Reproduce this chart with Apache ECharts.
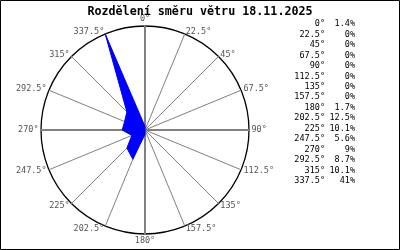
<!DOCTYPE html>
<html><head><meta charset="utf-8">
<script src="https://cdn.jsdelivr.net/npm/echarts@6/dist/echarts.min.js"></script>
<style>html,body{margin:0;padding:0;background:#fff}#c{width:400px;height:250px}</style>
</head><body><div id="c"></div>
<script>
const titleText = 'Rozdělení směru větru 18.11.2025';
const directions = ['0°','22.5°','45°','67.5°','90°','112.5°','135°','157.5°','180°','202.5°','225°','247.5°','270°','292.5°','315°','337.5°'];
const percents = [1.4,0,0,0,0,0,0,0,1.7,12.5,10.1,5.6,9,8.7,10.1,41];
const percentLabels = ['1.4%','0%','0%','0%','0%','0%','0%','0%','1.7%','12.5%','10.1%','5.6%','9%','8.7%','10.1%','41%'];
const radiusMax = 41;

// radar runs counter-clockwise: reorder so directions go clockwise from north
const order = [0];
for (let i = directions.length - 1; i > 0; i--) order.push(i);

const FONT = 'DejaVu Sans Mono';
const chart = echarts.init(document.getElementById('c'), null, {renderer: 'canvas'});

const legendGraphics = [];
directions.forEach((d, i) => {
  const y = 24 + i * 10.47;
  legendGraphics.push({type: 'text', x: 325, y: y, style: {text: d, align: 'right', verticalAlign: 'middle', font: '8.5px "' + FONT + '"', fill: '#000'}});
  legendGraphics.push({type: 'text', x: 355, y: y, style: {text: percentLabels[i], align: 'right', verticalAlign: 'middle', font: '8.5px "' + FONT + '"', fill: '#000'}});
});

chart.setOption({
  animation: false,
  backgroundColor: '#fff',
  title: {text: titleText, left: 'center', top: 1, textStyle: {fontFamily: FONT, fontWeight: 'bold', fontSize: 11.7, color: '#000'}},
  radar: [{
    center: [145, 130], radius: 104, shape: 'circle', startAngle: 90, splitNumber: 1,
    indicator: order.map(i => ({name: directions[i], min: 0, max: radiusMax})),
    axisName: {color: '#555', fontFamily: FONT, fontSize: 8.5},
    nameGap: 2.5,
    axisLine: {lineStyle: {color: '#808080', width: 1}},
    splitLine: {lineStyle: {color: '#000', width: 1.3}},
    splitArea: {show: false},
    axisTick: {show: false}, axisLabel: {show: false}
  }, {
    center: [145, 130], radius: 104, shape: 'circle', startAngle: 90, splitNumber: 1,
    indicator: [0,1,2,3].map(() => ({name: '', min: 0, max: radiusMax})),
    axisName: {show: false},
    axisLine: {lineStyle: {color: '#808080', width: 2}},
    splitLine: {show: false}, splitArea: {show: false}
  }],
  series: [{
    type: 'radar', radarIndex: 0, symbol: 'none',
    lineStyle: {color: '#0000ff', width: 1},
    areaStyle: {color: '#0000ff', opacity: 1},
    data: [{value: order.map(i => percents[i])}]
  }],
  graphic: [
    {type: 'rect', shape: {x: 0.5, y: 0.5, width: 399, height: 249}, style: {fill: 'none', stroke: '#000', lineWidth: 1}, z: 100},
    ...legendGraphics
  ]
});
</script></body></html>
